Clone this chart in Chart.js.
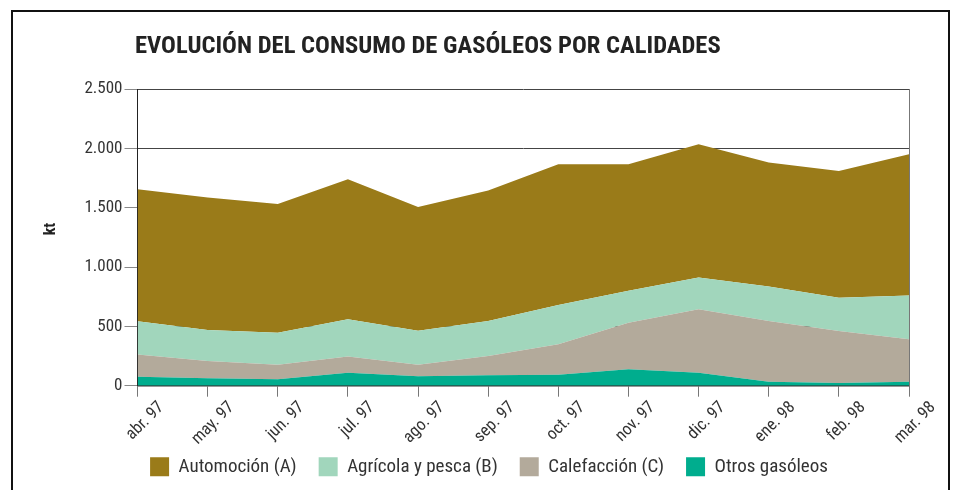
<!DOCTYPE html>
<html>
<head>
<meta charset="utf-8">
<script src="https://cdn.jsdelivr.net/npm/chart.js@4.4.1/dist/chart.umd.min.js"></script>
<style>
  html, body { margin: 0; padding: 0; background: #fff; }
  #wrap { position: relative; width: 953px; height: 490px; overflow: hidden; }
  #frame { position: absolute; left: 11px; top: 10px; width: 935px; height: 500px;
           border-top: 2px solid #111; border-left: 2px solid #111; border-right: 2px solid #111;
           pointer-events: none; }
  canvas { position: absolute; left: 0; top: 0; }
</style>
</head>
<body>
<div id="wrap">
  <canvas id="c" width="953" height="490"></canvas>
  <div id="frame"></div>
</div>
<script>
const chartTitle = 'EVOLUCIÓN DEL CONSUMO DE GASÓLEOS POR CALIDADES';
const yAxisTitle = 'kt';
const months = ['abr. 97','may. 97','jun. 97','jul. 97','ago. 97','sep. 97','oct. 97','nov. 97','dic. 97','ene. 98','feb. 98','mar. 98'];
const yTickLabels = ['0','500','1.000','1.500','2.000','2.500'];

const otrosGasoleos = [76, 62, 54, 110, 79, 88, 93, 138, 110, 34, 23, 34];
const calefaccion   = [186, 146, 123, 135, 98, 162, 256, 392, 534, 512, 438, 357];
const agricolaPesca = [281, 262, 270, 315, 287, 296, 332, 270, 267, 289, 281, 368];
const automocion    = [1112, 1115, 1083, 1180, 1041, 1099, 1184, 1065, 1124, 1045, 1068, 1191];

const FONT = "'Liberation Sans Narrow', 'Roboto Condensed', 'DejaVu Sans Condensed', 'Liberation Sans', sans-serif";
const LEGEND_PAD = 22;

const titlePlugin = {
  id: 'customTitle',
  afterLayout(chart) {
    const lg = chart.legend;
    if (lg) {
      lg.top = 457.3 - LEGEND_PAD;
      lg.bottom = chart.height;
      lg.height = lg.bottom - lg.top;
    }
  },
  afterDraw(chart) {
    const ctx = chart.ctx;
    ctx.save();
    ctx.font = 'bold 24.6px ' + FONT;
    ctx.fillStyle = '#222';
    ctx.textAlign = 'left';
    ctx.textBaseline = 'alphabetic';
    ctx.fillText(chartTitle, 135, 53);
    ctx.translate(51, 229);
    ctx.rotate(-Math.PI / 2);
    ctx.font = 'bold 16px ' + FONT;
    ctx.textAlign = 'center';
    ctx.textBaseline = 'middle';
    ctx.fillText(yAxisTitle, 0, 0);
    ctx.restore();
  }
};

function ds(label, data, color, fill) {
  return { label, data, backgroundColor: color, borderColor: color, borderWidth: 0,
           pointRadius: 0, pointHoverRadius: 0, tension: 0, fill };
}

new Chart(document.getElementById('c'), {
  type: 'line',
  data: {
    labels: months,
    datasets: [
      ds('Otros gasóleos', otrosGasoleos, '#00AD8E', 'origin'),
      ds('Calefacción (C)', calefaccion, '#B3AA9B', '-1'),
      ds('Agrícola y pesca (B)', agricolaPesca, '#A1D6BC', '-1'),
      ds('Automoción (A)', automocion, '#9A7B19', '-1')
    ]
  },
  plugins: [titlePlugin],
  options: {
    responsive: false,
    devicePixelRatio: 1,
    animation: false,
    layout: { padding: { left: 69, right: 44, top: 89, bottom: 0 } },
    plugins: {
      title: { display: false },
      tooltip: { enabled: false },
      legend: {
        position: 'bottom',
        reverse: true,
        maxHeight: 42.3,
        labels: {
          boxWidth: 19, boxHeight: 19, padding: LEGEND_PAD,
          color: '#333',
          font: { family: FONT, size: 19 }
        }
      }
    },
    scales: {
      x: {
        type: 'category',
        offset: false,
        afterFit(s) { s.height = 62; },
        grid: { display: true, drawOnChartArea: false, drawTicks: true, tickLength: 11, tickColor: '#777' },
        border: { display: true, color: '#333', width: 1.5 },
        ticks: { autoSkip: false, minRotation: 45, maxRotation: 45, padding: 1, labelOffset: 24,
                 color: '#333', font: { family: FONT, size: 17 } }
      },
      y: {
        stacked: true,
        min: 0, max: 2500,
        afterFit(s) { s.width = 68.5; },
        ticks: { stepSize: 500, padding: 2, color: '#333', font: { family: FONT, size: 17 },
                 callback: (v) => yTickLabels[Math.round(v / 500)] },
        grid: { color: '#444', lineWidth: 1, tickLength: 13, tickColor: '#888' },
        border: { display: true, color: '#222', width: 1 },
        title: { display: false }
      },
      y2: {
        position: 'right',
        display: true,
        afterFit(s) { s.width = 0; },
        grid: { drawOnChartArea: false, drawTicks: false },
        ticks: { display: false },
        border: { display: true, color: '#777', width: 1 }
      }
    }
  }
});
</script>
</body>
</html>
